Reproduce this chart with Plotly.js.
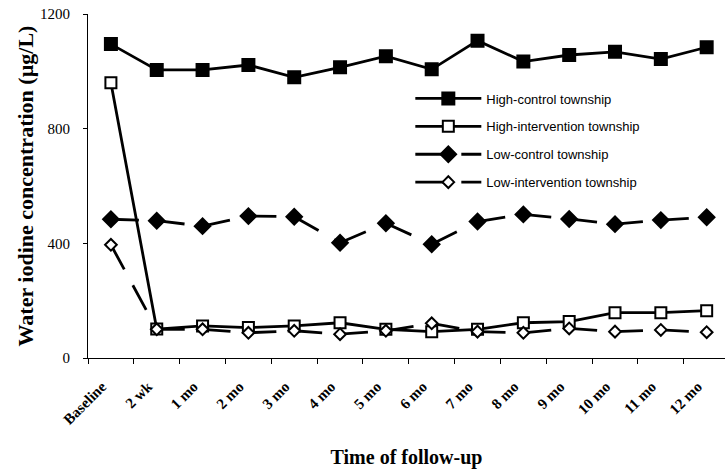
<!DOCTYPE html>
<html>
<head>
<meta charset="utf-8">
<script src="https://cdn.plot.ly/plotly-3.0.1.min.js"></script>
<style>
  html, body { margin: 0; padding: 0; background: #fff; }
  #chart { width: 725px; height: 469px; }
</style>
</head>
<body>
<div id="chart"></div>
<script>
// Follow-up time points
const categories = ['Baseline', '2 wk', '1 mo', '2 mo', '3 mo', '4 mo', '5 mo',
                    '6 mo', '7 mo', '8 mo', '9 mo', '10 mo', '11 mo', '12 mo'];

// Water iodine concentration (µg/L) per township
const highControl      = [1095, 1005, 1005, 1022, 979, 1014, 1053, 1007, 1107, 1034, 1057, 1068, 1043, 1084];
const highIntervention = [960, 101, 112, 106, 112, 123, 100, 92, 100, 123, 127, 158, 158, 165];
const lowControl       = [484, 479, 460, 495, 493, 402, 470, 397, 476, 501, 485, 467, 481, 491];
const lowIntervention  = [395, 100, 100, 88, 95, 83, 95, 121, 92, 88, 103, 92, 98, 90];

const seriesNames = ['High-control township', 'High-intervention township',
                     'Low-control township', 'Low-intervention township'];

const yTicks = [0, 400, 800, 1200];

const serif = 'Liberation Serif, Times New Roman, serif';
const sans = 'Liberation Sans, Arial, sans-serif';

const LINE_W = 2.8;
const DASH = '28px,18px';

function markerStyle(symbol, fill, size) {
  return { symbol: symbol, size: size, color: fill, line: { color: '#000', width: 2 } };
}

// Solid series: a single lines+markers trace
function solidSeries(name, y, symbol, fill, size, group) {
  return [{
    type: 'scatter', mode: 'lines+markers', name: name, legendgroup: group,
    x: categories, y: y,
    line: { color: '#000', width: LINE_W },
    marker: markerStyle(symbol, fill, size)
  }];
}

// Dashed series: each interval is its own path so the dash pattern
// restarts at every time point, plus a marker layer and a legend entry
function dashedSeries(name, y, symbol, fill, size, group) {
  const out = [];
  out.push({
    type: 'scatter', mode: 'lines+markers', name: name, legendgroup: group,
    x: [null], y: [null],
    line: { color: '#000', width: LINE_W, dash: DASH },
    marker: markerStyle(symbol, fill, size)
  });
  for (let i = 0; i < y.length - 1; i++) {
    out.push({
      type: 'scatter', mode: 'lines', showlegend: false, legendgroup: group, hoverinfo: 'skip',
      x: [categories[i], categories[i + 1]], y: [y[i], y[i + 1]],
      line: { color: '#000', width: LINE_W, dash: DASH }
    });
  }
  out.push({
    type: 'scatter', mode: 'markers', showlegend: false, legendgroup: group,
    x: categories, y: y, marker: markerStyle(symbol, fill, size)
  });
  return out;
}

const traces = [].concat(
  solidSeries(seriesNames[0], highControl, 'square', '#000', 12, 'hc'),
  solidSeries(seriesNames[1], highIntervention, 'square', '#fff', 11, 'hi'),
  dashedSeries(seriesNames[2], lowControl, 'diamond', '#000', 12, 'lc'),
  dashedSeries(seriesNames[3], lowIntervention, 'diamond', '#fff', 9, 'li')
);

const layout = {
  width: 725,
  height: 469,
  margin: { l: 88, r: 0, t: 14, b: 111 },
  paper_bgcolor: '#fff',
  plot_bgcolor: '#fff',
  showlegend: true,
  legend: {
    x: 0.506, y: 0.798, xanchor: 'left', yanchor: 'top',
    font: { family: sans, size: 13, color: '#000' },
    bgcolor: 'rgba(255,255,255,0)',
    traceorder: 'grouped',
    tracegroupgap: 8,
    itemwidth: 66
  },
  xaxis: {
    type: 'category',
    range: [-0.5, 13.4],
    showline: true, linecolor: '#000', linewidth: 1,
    showgrid: false, zeroline: false,
    ticks: 'outside', ticklen: 5, tickcolor: '#000', tickson: 'boundaries',
    tickangle: -45,
    ticklabelstandoff: 13,
    ticklabelshift: -9,
    tickfont: { family: serif, size: 15, color: '#000', weight: 'bold' },
    title: { text: '<b>Time of follow-up</b>', font: { family: serif, size: 20, color: '#000' }, standoff: 32 }
  },
  yaxis: {
    range: [0, 1200],
    tickvals: yTicks,
    ticktext: yTicks.map(String),
    showline: true, linecolor: '#000', linewidth: 1,
    showgrid: false, zeroline: false,
    ticks: 'outside', ticklen: 4, tickcolor: '#000',
    ticklabelstandoff: 10,
    tickfont: { family: serif, size: 15, color: '#000' },
    title: { text: '<b>Water iodine concentration (µg/L)</b>', font: { family: serif, size: 22, color: '#000' }, standoff: 0 }
  }
};

Plotly.newPlot('chart', traces, layout, { displayModeBar: false, staticPlot: true });
</script>
</body>
</html>
